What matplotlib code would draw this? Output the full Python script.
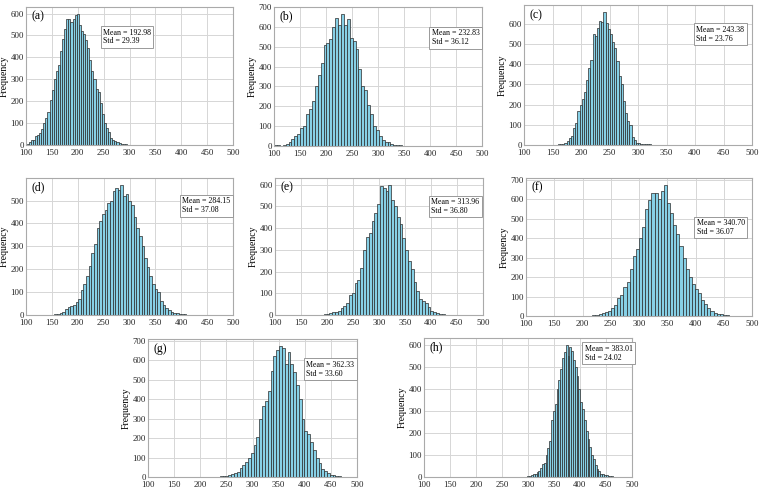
import numpy as np
import matplotlib
matplotlib.use("Agg")
import matplotlib.pyplot as plt
from matplotlib.ticker import MultipleLocator

plt.rcParams['font.family'] = ['Liberation Serif', 'DejaVu Serif']

# bin start, bin width and bin counts
labels = ['(a)', '(b)', '(c)', '(d)', '(e)', '(f)', '(g)', '(h)']
means = [192.98, 232.83, 243.38, 284.15, 313.96, 340.70, 362.33, 383.01]
stds = [29.39, 36.12, 23.76, 37.08, 36.80, 36.07, 33.60, 24.02]

starts = [101, 100, 152, 155, 183, 190, 205, 299]
widths = [4.04, 5.6, 3.8, 5.1, 5.4, 5.5, 5.4, 3.5]

counts_a = [5, 12, 22, 25, 40, 45, 55, 75, 100, 125, 150, 205, 250, 300, 340, 365, 430,
            485, 530, 575, 575, 560, 575, 595, 600, 550, 520, 505, 480, 445, 390, 340, 300,
            255, 240, 190, 140, 100, 78, 58, 32, 24, 17, 12, 9, 6, 4, 3, 2, 1]
counts_b = [3, 3, 2, 5, 8, 20, 35, 48, 62, 90, 100, 160, 185, 225, 300, 360, 420, 510, 520,
            540, 600, 645, 610, 667, 610, 640, 545, 530, 490, 390, 300, 280, 205, 160, 100,
            80, 50, 30, 20, 22, 10, 5, 4, 3, 2, 2, 1, 1, 1, 1]
counts_c = [2, 2, 3, 4, 5, 8, 20, 35, 45, 85, 110, 170, 200, 230, 260, 320, 380, 420, 550,
            540, 580, 615, 610, 660, 605, 575, 550, 510, 480, 415, 340, 300, 220, 160, 120,
            100, 40, 25, 10, 8, 6, 5, 4, 3, 3, 2, 1, 1, 0, 1]
counts_d = [3, 4, 8, 15, 25, 35, 40, 45, 55, 70, 110, 135, 170, 215, 270, 310, 380, 410,
            440, 460, 490, 500, 540, 555, 545, 570, 520, 530, 500, 480, 430, 380, 345, 300,
            250, 210, 170, 135, 115, 100, 60, 45, 30, 20, 15, 10, 8, 5, 4, 3]
counts_e = [1, 2, 3, 5, 10, 12, 12, 20, 30, 40, 55, 90, 100, 145, 160, 215, 300, 360, 375,
            430, 470, 510, 595, 585, 570, 600, 530, 500, 450, 420, 355, 300, 250, 210, 150,
            110, 75, 65, 55, 35, 20, 12, 10, 6, 3, 2, 2, 1, 1, 1]
counts_f = [1, 1, 2, 1, 2, 3, 5, 10, 15, 22, 25, 40, 55, 90, 110, 150, 175, 240, 310, 345,
            400, 455, 550, 595, 630, 630, 600, 640, 675, 580, 530, 465, 420, 360, 300, 240,
            200, 165, 140, 120, 80, 60, 40, 25, 15, 10, 8, 5, 3, 2]
counts_g = [1, 0, 2, 1, 2, 2, 3, 3, 5, 10, 15, 18, 25, 45, 60, 75, 100, 125, 165, 205, 300,
            365, 390, 440, 545, 620, 650, 675, 665, 580, 640, 580, 540, 470, 400, 300, 235,
            220, 180, 140, 100, 70, 40, 30, 20, 12, 8, 6, 4, 2]
counts_h = [5, 6, 8, 12, 15, 22, 25, 40, 60, 65, 100, 130, 165, 260, 300, 330, 400, 440,
            490, 540, 565, 600, 550, 590, 570, 530, 500, 460, 400, 340, 310, 260, 210, 170,
            135, 100, 80, 55, 35, 25, 15, 12, 9, 7, 5, 4, 3, 2, 1, 1]
all_counts = [counts_a, counts_b, counts_c, counts_d, counts_e, counts_f, counts_g, counts_h]

W, H = 760, 488
# axes rectangles in pixels: left, top, width, height
rects = [(26, 7, 207, 138), (274, 7, 208, 139), (524, 5, 228, 140),
         (26, 178, 207, 137), (275, 178, 208, 137), (526, 178, 226, 138),
         (148, 339, 209, 138), (424, 338, 208, 139)]
# stats box top-left corner in axes coords
box_pos = [(0.36, 0.862), (0.747, 0.858), (0.743, 0.869), (0.744, 0.876),
           (0.74, 0.871), (0.743, 0.72), (0.746, 0.86), (0.761, 0.969)]

fig = plt.figure(figsize=(W / 100, H / 100), dpi=100)

for i in range(8):
    l, t, w, h = rects[i]
    ax = fig.add_axes([l / W, (H - t - h) / H, w / W, h / H])
    edges = starts[i] + widths[i] * np.arange(len(all_counts[i]) + 1)
    ax.hist(edges[:-1], bins=edges, weights=all_counts[i], color='#87d0e6',
            edgecolor='#2a2a2a', linewidth=0.5)
    ax.set_xlim(100, 500)
    ax.set_xticks(np.arange(100, 501, 50))
    ax.yaxis.set_major_locator(MultipleLocator(100))
    ax.grid(True, color='#d6d6d6', linewidth=0.7)
    ax.set_axisbelow(True)
    for s in ax.spines.values():
        s.set_color('#aaaaaa')
        s.set_linewidth(0.8)
    ax.tick_params(length=0, labelsize=6.3, colors='#222222')
    ax.tick_params(axis='x', pad=3.2)
    ax.tick_params(axis='y', pad=1.5)
    ax.set_ylabel('Frequency', fontsize=7, labelpad=1)
    ax.text(0.025, 0.93, labels[i], transform=ax.transAxes, fontsize=8.5,
            ha='left', va='center')
    bx, by = box_pos[i]
    ax.text(bx + 0.012, by - 0.018, 'Mean = %.2f\nStd = %.2f' % (means[i], stds[i]),
            transform=ax.transAxes, fontsize=5.7, ha='left', va='top', linespacing=1.15,
            bbox=dict(boxstyle='square,pad=0.3', facecolor='white', edgecolor='#999999',
                      linewidth=0.7))

fig.savefig('out.png', dpi=100)
